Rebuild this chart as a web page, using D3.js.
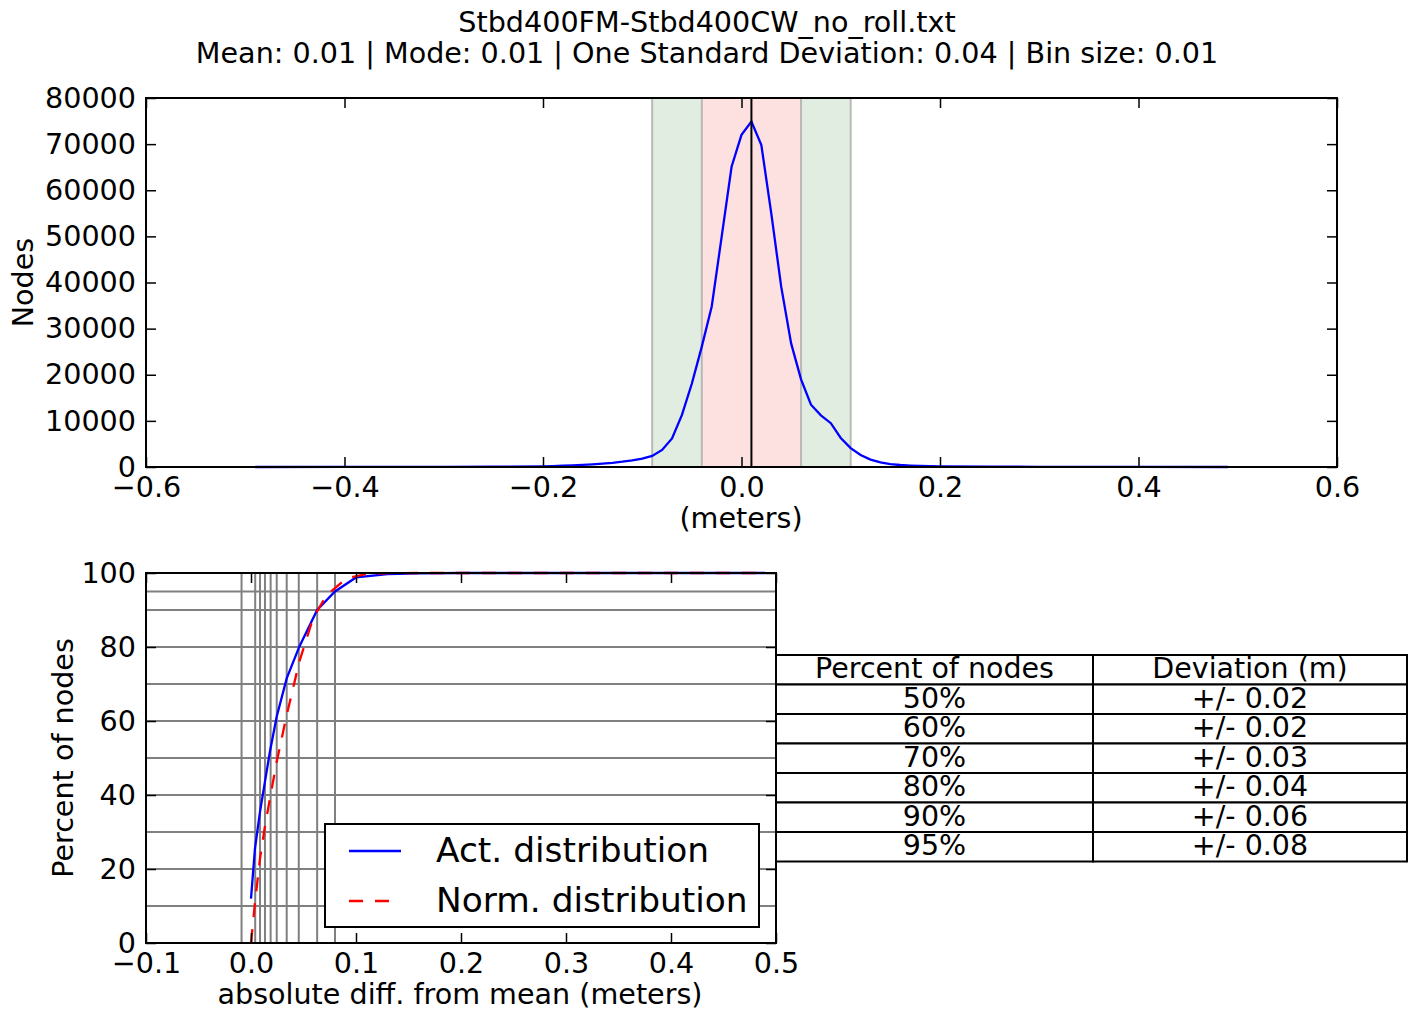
<!DOCTYPE html>
<html>
<head>
<meta charset="utf-8">
<script src="https://cdn.jsdelivr.net/npm/d3@7"></script>
<style>
  body { margin: 0; background: #fff; }
  svg { display: block; font-family: "DejaVu Sans", sans-serif; }
  .tick line { stroke: #000; stroke-width: 1.5; }
  .tick text { font-size: 28.6px; fill: #000; }
</style>
</head>
<body>
<div id="chart"></div>
<script>
// histogram of differences (meters -> nodes)
const histX = [-0.49, -0.4, -0.3, -0.25, -0.2, -0.19, -0.18, -0.17, -0.16, -0.15, -0.14, -0.13, -0.12, -0.11,
  -0.10, -0.09, -0.08, -0.07, -0.06, -0.05, -0.04, -0.03, -0.02, -0.01, 0.0, 0.01, 0.02, 0.03, 0.04, 0.05,
  0.06, 0.07, 0.08, 0.09, 0.10, 0.11, 0.12, 0.13, 0.14, 0.15, 0.16, 0.17, 0.18, 0.19, 0.2, 0.25, 0.3, 0.4, 0.49]
const histY = [5, 10, 30, 60, 150, 200, 280, 350, 450, 580, 750, 900, 1150, 1450,
  1800, 2400, 3700, 6200, 11300, 18100, 26100, 34800, 49900, 65100, 72000, 74900, 69800, 55000, 39100, 26800,
  19000, 13500, 11200, 9500, 6300, 4100, 2600, 1600, 1000, 600, 430, 320, 250, 190, 150, 70, 40, 15, 5]

const meanValue = 0.01
const band1 = [-0.04, 0.06]
const band2 = [-0.09, 0.11]

// cumulative distributions
const actX = [0.0, 0.0038, 0.0086, 0.0133, 0.018, 0.0245, 0.034, 0.046, 0.063, 0.08, 0.1, 0.13, 0.16, 0.2, 0.3, 0.4, 0.49]
const actY = [12, 25.6, 35.5, 43.6, 51.7, 61.2, 71.5, 80.1, 90, 95, 98.8, 99.7, 99.9, 100, 100, 100, 100]
const normX = [0.0, 0.0038, 0.0086, 0.013, 0.018, 0.0245, 0.034, 0.046, 0.059, 0.072, 0.091, 0.11, 0.13, 0.16, 0.2, 0.49]
const normY = [0, 11, 22.9, 31, 39, 49, 61.6, 76, 87.7, 94, 98.6, 99.7, 99.95, 100, 100, 100]

const gridPercents = [10, 20, 30, 40, 50, 60, 70, 80, 90, 95]
const gridDeviations = [-0.009, 0.004, 0.0086, 0.0133, 0.0187, 0.0245, 0.034, 0.0455, 0.063, 0.08]

const tableHeader = ["Percent of nodes", "Deviation (m)"]
const tablePercents = ["50%", "60%", "70%", "80%", "90%", "95%"]
const tableDeviations = ["+/- 0.02", "+/- 0.02", "+/- 0.03", "+/- 0.04", "+/- 0.06", "+/- 0.08"]

const titleLines = ["Stbd400FM-Stbd400CW_no_roll.txt",
  "Mean: 0.01 | Mode: 0.01 | One Standard Deviation: 0.04 | Bin size: 0.01"]

const fontSize = 28.6
const width = 1419, height = 1013
const svg = d3.select("#chart").append("svg")
  .attr("width", width).attr("height", height)
  .attr("viewBox", [0, 0, width, height])

// title
svg.append("g").selectAll("text").data(titleLines).join("text")
  .attr("x", 707).attr("y", (d, i) => 32 + i * 31)
  .attr("text-anchor", "middle")
  .attr("font-size", fontSize)
  .text(d => d)

function frame(g, x, y) {
  g.append("rect")
    .attr("x", x.range()[0]).attr("y", y.range()[1])
    .attr("width", x.range()[1] - x.range()[0])
    .attr("height", y.range()[0] - y.range()[1])
    .attr("fill", "none").attr("stroke", "#000").attr("stroke-width", 2)
}

function axes(g, x, y, xFormat, yFormat, xTicks, yTicks) {
  const y0 = y.range()[0], y1 = y.range()[1]
  const x0 = x.range()[0], x1 = x.range()[1]
  g.append("g").attr("transform", `translate(0,${y0})`)
    .call(d3.axisBottom(x).tickValues(xTicks).tickFormat(xFormat).tickSizeInner(-10).tickSizeOuter(0).tickPadding(10))
    .call(g => g.select(".domain").remove())
  g.append("g").attr("transform", `translate(0,${y1})`)
    .call(d3.axisTop(x).tickValues(xTicks).tickFormat("").tickSizeInner(-10).tickSizeOuter(0))
    .call(g => g.select(".domain").remove())
  g.append("g").attr("transform", `translate(${x0},0)`)
    .call(d3.axisLeft(y).tickValues(yTicks).tickFormat(yFormat).tickSizeInner(-10).tickSizeOuter(0).tickPadding(10))
    .call(g => g.select(".domain").remove())
  g.append("g").attr("transform", `translate(${x1},0)`)
    .call(d3.axisRight(y).tickValues(yTicks).tickFormat("").tickSizeInner(-10).tickSizeOuter(0))
    .call(g => g.select(".domain").remove())
  g.selectAll("g").attr("font-family", null).attr("font-size", null)
}

// ---------- top chart ----------
const xTop = d3.scaleLinear().domain([-0.6, 0.6]).range([146, 1337])
const yTop = d3.scaleLinear().domain([0, 80000]).range([467, 98])
const topChart = svg.append("g")

topChart.append("rect")
  .attr("x", xTop(band2[0])).attr("width", xTop(band2[1]) - xTop(band2[0]))
  .attr("y", yTop(80000)).attr("height", yTop(0) - yTop(80000))
  .attr("fill", "#e2ede1")
topChart.append("rect")
  .attr("x", xTop(band1[0])).attr("width", xTop(band1[1]) - xTop(band1[0]))
  .attr("y", yTop(80000)).attr("height", yTop(0) - yTop(80000))
  .attr("fill", "#fde1e1")
topChart.append("g").selectAll("line").data([...band2, ...band1]).join("line")
  .attr("x1", d => xTop(d)).attr("x2", d => xTop(d))
  .attr("y1", yTop(80000)).attr("y2", yTop(0))
  .attr("stroke", "#b8b8b8").attr("stroke-width", 2)

const histLine = d3.line().x(d => xTop(d[0])).y(d => yTop(d[1]))
topChart.append("path")
  .attr("d", histLine(d3.zip(histX, histY)))
  .attr("fill", "none").attr("stroke", "#0000ff").attr("stroke-width", 2.3)

topChart.append("line")
  .attr("x1", xTop(meanValue)).attr("x2", xTop(meanValue))
  .attr("y1", yTop(80000)).attr("y2", yTop(0))
  .attr("stroke", "#000").attr("stroke-width", 2)

axes(topChart, xTop, yTop, d3.format(".1f"), d3.format("d"),
  d3.range(-6, 7, 2).map(d => d / 10), d3.range(0, 80001, 10000))
frame(topChart, xTop, yTop)

topChart.append("text")
  .attr("x", 741).attr("y", 528)
  .attr("text-anchor", "middle").attr("font-size", fontSize)
  .text("(meters)")
topChart.append("text")
  .attr("transform", `translate(33,${(98 + 467) / 2}) rotate(-90)`)
  .attr("text-anchor", "middle").attr("font-size", fontSize)
  .text("Nodes")

// ---------- bottom chart ----------
const xBot = d3.scaleLinear().domain([-0.1, 0.5]).range([146, 776])
const yBot = d3.scaleLinear().domain([0, 100]).range([943, 573])
const bottomChart = svg.append("g")

bottomChart.append("g").selectAll("line").data(gridPercents).join("line")
  .attr("x1", xBot(-0.1)).attr("x2", xBot(0.5))
  .attr("y1", d => yBot(d)).attr("y2", d => yBot(d))
  .attr("stroke", "#808080").attr("stroke-width", 2)
bottomChart.append("g").selectAll("line").data(gridDeviations).join("line")
  .attr("x1", d => xBot(d)).attr("x2", d => xBot(d))
  .attr("y1", yBot(0)).attr("y2", yBot(100))
  .attr("stroke", "#808080").attr("stroke-width", 2)

const cdfLine = d3.line().x(d => xBot(d[0])).y(d => yBot(d[1]))
bottomChart.append("path")
  .attr("d", cdfLine(d3.zip(actX, actY)))
  .attr("fill", "none").attr("stroke", "#0000ff").attr("stroke-width", 2.3)
bottomChart.append("path")
  .attr("d", cdfLine(d3.zip(normX, normY)))
  .attr("fill", "none").attr("stroke", "#ff0000").attr("stroke-width", 2.3)
  .attr("stroke-dasharray", "14,12")

axes(bottomChart, xBot, yBot, d3.format(".1f"), d3.format("d"),
  d3.range(-1, 6).map(d => d / 10), d3.range(0, 101, 20))
frame(bottomChart, xBot, yBot)

bottomChart.append("text")
  .attr("x", 460).attr("y", 1004)
  .attr("text-anchor", "middle").attr("font-size", fontSize)
  .text("absolute diff. from mean (meters)")
bottomChart.append("text")
  .attr("transform", `translate(73,${(573 + 943) / 2}) rotate(-90)`)
  .attr("text-anchor", "middle").attr("font-size", fontSize)
  .text("Percent of nodes")

// legend
const legend = bottomChart.append("g").attr("transform", "translate(325,824)")
legend.append("rect")
  .attr("width", 434).attr("height", 103)
  .attr("fill", "#fff").attr("stroke", "#000").attr("stroke-width", 2)
const legendItems = [
  { label: "Act. distribution", color: "#0000ff", dash: null },
  { label: "Norm. distribution", color: "#ff0000", dash: "14,12" }
]
legendItems.forEach((d, i) => {
  legend.append("line")
    .attr("x1", 24).attr("x2", 76)
    .attr("y1", 27 + i * 50).attr("y2", 27 + i * 50)
    .attr("stroke", d.color).attr("stroke-width", 2.3)
    .attr("stroke-dasharray", d.dash)
  legend.append("text")
    .attr("x", 111).attr("y", 38 + i * 50)
    .attr("font-size", 34.4)
    .text(d.label)
})

// table
const table = svg.append("g")
const tableLeft = 776, tableSplit = 1093, tableRight = 1407
const rowTop = 655, rowH = 29.5
const rows = [tableHeader, ...d3.zip(tablePercents, tableDeviations)]
rows.forEach((r, i) => {
  const y = rowTop + i * rowH
  table.append("rect")
    .attr("x", tableLeft).attr("y", y)
    .attr("width", tableSplit - tableLeft).attr("height", rowH)
    .attr("fill", "#fff").attr("stroke", "#000").attr("stroke-width", 2)
  table.append("rect")
    .attr("x", tableSplit).attr("y", y)
    .attr("width", tableRight - tableSplit).attr("height", rowH)
    .attr("fill", "#fff").attr("stroke", "#000").attr("stroke-width", 2)
  table.append("text")
    .attr("x", (tableLeft + tableSplit) / 2).attr("y", y + 23)
    .attr("text-anchor", "middle").attr("font-size", 28.5)
    .text(r[0])
  table.append("text")
    .attr("x", (tableSplit + tableRight) / 2).attr("y", y + 23)
    .attr("text-anchor", "middle").attr("font-size", 28.5)
    .text(r[1])
})
</script>
</body>
</html>
